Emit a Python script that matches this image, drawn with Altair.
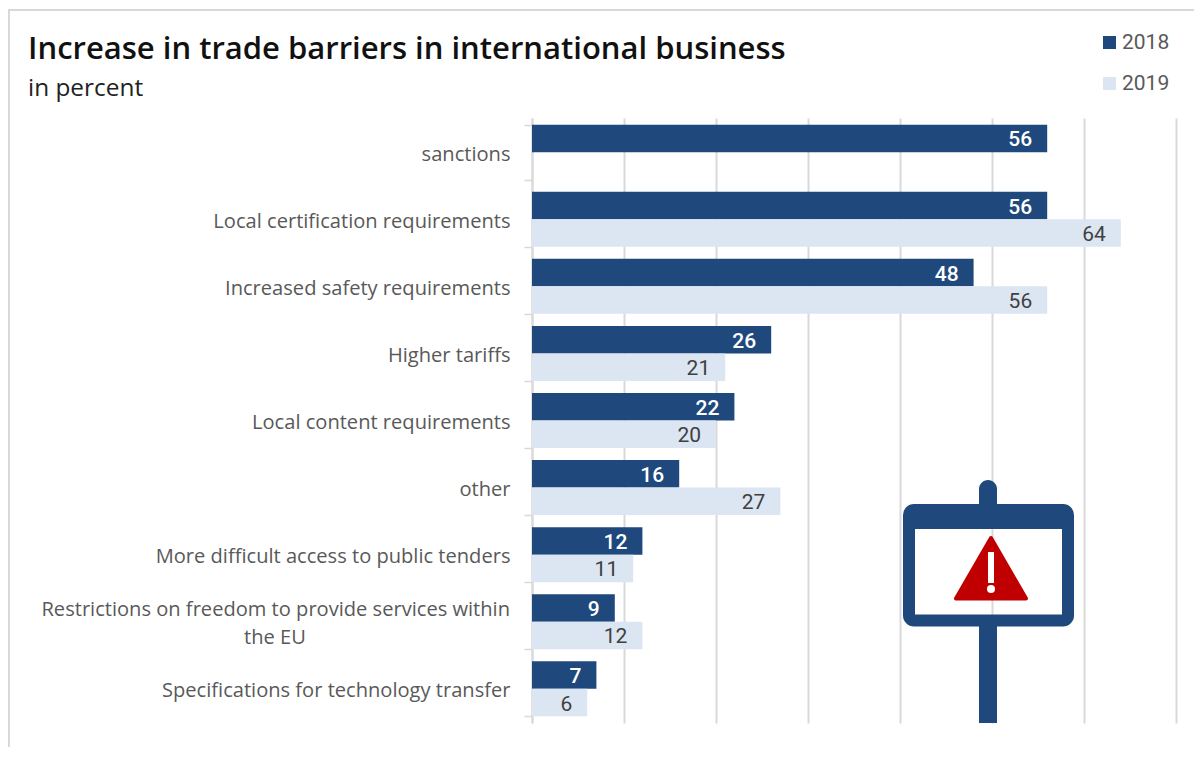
import altair as alt
import pandas as pd

FONT = "Open Sans"
categories = ["sanctions", "Local certification requirements", "Increased safety requirements",
              "Higher tariffs", "Local content requirements", "other",
              "More difficult access to public tenders",
              "Restrictions on freedom to provide services within the EU",
              "Specifications for technology transfer"]
values_2018 = [56, 56, 48, 26, 22, 16, 12, 9, 7]
values_2019 = [None, 64, 56, 21, 20, 27, 11, 12, 6]
years = ["2018", "2019"]
wrapped_category = categories[7]
wrapped_lines = ["Restrictions on freedom to provide services within", "the EU"]
title_text = "Increase in trade barriers in international business"
subtitle_text = "in percent"
DARK, LIGHT, GRID, LABEL = "#1f497d", "#dce6f2", "#d9d9d9", "#595959"

rows = []
for c, a, b in zip(categories, values_2018, values_2019):
    rows.append({"cat": c, "year": "2018", "v": a})
    if b is not None:
        rows.append({"cat": c, "year": "2019", "v": b})
df = pd.DataFrame(rows)

W, H = 644, 605
PL, PT = 524, 110

label_expr = "datum.value == '" + wrapped_category + "' ? '' : datum.value"

x = alt.X("v:Q", scale=alt.Scale(domain=[0, 70], nice=False),
          axis=alt.Axis(values=list(range(0, 80, 10)), grid=True, gridColor=GRID, gridWidth=2,
                        labels=False, ticks=False, domain=False, title=None))
y = alt.Y("cat:N", sort=categories,
          scale=alt.Scale(domain=categories, paddingInner=0.18, paddingOuter=0.1),
          axis=alt.Axis(title=None, tickBand="extent", tickColor=GRID, tickSize=8, tickWidth=1.5,
                        domainColor=GRID, domainWidth=2, labelFont=FONT, labelFontSize=20.1,
                        labelColor=LABEL, labelPadding=14, labelLimit=520, labelExpr=label_expr,
                        labelOffset=2))
yo = alt.YOffset("year:N", scale=alt.Scale(domain=years))

bars = alt.Chart(df).mark_bar().encode(
    x=x, y=y, yOffset=yo,
    color=alt.Color("year:N", scale=alt.Scale(domain=years, range=[DARK, LIGHT]),
                    legend=alt.Legend(title=None, orient="none", legendX=567, legendY=-86,
                                      symbolType="square", symbolSize=169, symbolStrokeWidth=0,
                                      labelFont="Roboto", labelFontSize=21, labelColor=LABEL,
                                      rowPadding=19, labelOffset=2)))

txt_a = alt.Chart(df[df.year == "2018"]).mark_text(align="right", dx=-15, dy=2, font="Roboto", fontSize=21,
                                                    fontWeight=500, color="white").encode(
    x=x, y=y, yOffset=yo, text="v:Q")
txt_b = alt.Chart(df[df.year == "2019"]).mark_text(align="right", dx=-15, dy=2, font="Roboto", fontSize=21,
                                                    color="#404040").encode(
    x=x, y=y, yOffset=yo, text="v:Q")


def px(xp):
    return alt.value(xp - 532)


def py(yp):
    return alt.value(yp - 118)


def box(x0, x1, y0, y1, **kw):
    return alt.Chart().mark_rect(**kw).encode(x=px(x0), x2=px(x1), y=py(y0), y2=py(y1))


def free_text(s, xp, yp, **kw):
    return alt.Chart(pd.DataFrame({"t": [s]})).mark_text(baseline="alphabetic", **kw).encode(
        x=px(xp), y=py(yp), text="t:N")


wrap_df = pd.DataFrame({"cat": [wrapped_category], "a": [wrapped_lines[0]], "b": [wrapped_lines[1]]})
wrap_a = alt.Chart(wrap_df).mark_text(align="right", dy=-12, font=FONT, fontSize=20.1, color=LABEL).encode(
    x=px(510), y=y, text="a:N")
wrap_b = alt.Chart(wrap_df).mark_text(align="center", dy=16, font=FONT, fontSize=20.1, color=LABEL).encode(
    x=px(275), y=y, text="b:N")

icon = [
    box(979, 997, 480, 520, color=DARK, cornerRadiusTopLeft=9, cornerRadiusTopRight=9),
    box(979, 997, 620, 723, color=DARK),
    box(909, 1068, 510, 620.5, fillOpacity=0, stroke=DARK, strokeWidth=12, cornerRadius=5),
    box(909, 1068, 510, 529, color=DARK),
    alt.Chart().mark_point(shape="triangle-up", size=4900, filled=True, color="#c00000", opacity=1,
                           stroke="#c00000", strokeWidth=4, strokeJoin="round").encode(
        x=px(991), y=py(568.3)),
    box(988, 994, 552, 583, color="white"),
    alt.Chart().mark_point(shape="circle", size=64, filled=True, color="white", opacity=1).encode(
        x=px(991), y=py(589)),
]

border = [
    alt.Chart().mark_rule(color=GRID, strokeWidth=2).encode(
        x=alt.value(-PL), x2=alt.value(1186 - PL), y=alt.value(-PT + 2)),
    alt.Chart().mark_rule(color=GRID, strokeWidth=2).encode(
        x=alt.value(-PL + 1), y=alt.value(-PT + 2), y2=alt.value(H + 40)),
]

titles = [
    free_text(title_text, 28, 59, align="left", font=FONT, fontSize=31, fontWeight=600, color="#111111"),
    free_text(subtitle_text, 28, 96, align="left", font=FONT, fontSize=24.4, color="#222222"),
]

chart = alt.layer(bars, txt_a, txt_b, wrap_a, wrap_b, *icon, *border, *titles).properties(
    width=W, height=H, background="white",
    padding={"left": PL, "top": PT, "right": 18, "bottom": 24},
    autosize=alt.AutoSizeParams(type="none"),
).configure_view(stroke=None)

chart.save("out.html", embed_options={"renderer": "svg", "actions": False})
